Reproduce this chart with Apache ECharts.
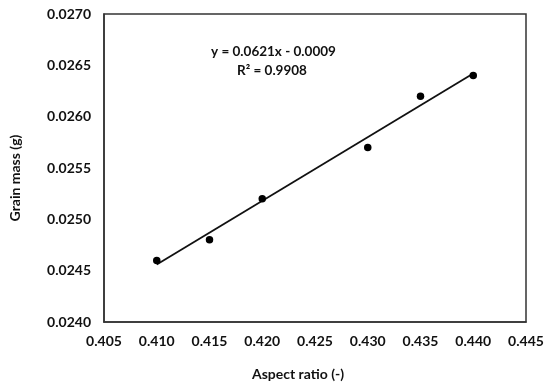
<!DOCTYPE html>
<html><head><meta charset="utf-8">
<script src="https://cdn.jsdelivr.net/npm/echarts@6/dist/echarts.min.js"></script>
<style>html,body{margin:0;padding:0;background:#fff}#c{width:550px;height:387px}</style>
</head><body><div id="c"></div>
<script>
const aspectRatio = [0.410, 0.415, 0.420, 0.430, 0.435, 0.440];
const grainMass = [0.0246, 0.0248, 0.0252, 0.0257, 0.0262, 0.0264];
const trendX = [0.410, 0.440];
const trendY = [0.02456, 0.02642];
const equationText = 'y = 0.0621x - 0.0009';
const r2Text = 'R² = 0.9908';

const font = 'Lato, "Open Sans", sans-serif';
const chart = echarts.init(document.getElementById('c'), null, {renderer: 'canvas'});
chart.setOption({
  backgroundColor: '#fff',
  animation: false,
  grid: {left: 103, top: 14, right: 24, bottom: 65, show: true, borderColor: '#333', borderWidth: 1.5},
  xAxis: {
    type: 'value', min: 0.405, max: 0.445, interval: 0.005,
    name: 'Aspect ratio (-)', nameLocation: 'middle', nameGap: 45,
    nameTextStyle: {fontFamily: font, fontWeight: 'bold', fontSize: 14, color: '#111', padding: [0, 34, 0, 0]},
    axisLine: {show: true, lineStyle: {color: '#333', width: 1.5}},
    axisTick: {show: false},
    splitLine: {show: false},
    axisLabel: {fontFamily: font, fontWeight: 'bold', fontSize: 14, color: '#111', margin: 12,
      formatter: v => v.toFixed(3)}
  },
  yAxis: {
    type: 'value', min: 0.024, max: 0.027, interval: 0.0005,
    name: 'Grain mass (g)', nameLocation: 'middle', nameGap: 82,
    nameTextStyle: {fontFamily: font, fontWeight: 'bold', fontSize: 14, color: '#111', padding: [0, 20, 0, 0]},
    axisLine: {show: true, lineStyle: {color: '#333', width: 1.5}},
    axisTick: {show: false},
    splitLine: {show: false},
    axisLabel: {fontFamily: font, fontWeight: 'bold', fontSize: 14, color: '#111', margin: 13,
      formatter: v => v.toFixed(4)}
  },
  series: [
    {type: 'line', data: trendX.map((x, i) => [x, trendY[i]]), symbol: 'none',
     lineStyle: {color: '#111', width: 1.8}, z: 2},
    {type: 'scatter', data: aspectRatio.map((x, i) => [x, grainMass[i]]), symbolSize: 7.5,
     itemStyle: {color: '#000', opacity: 1}, z: 3}
  ],
  graphic: [
    {type: 'text', left: 211, top: 45, style: {text: equationText, fontFamily: font, fontWeight: 'bold', fontSize: 13.5, fill: '#111'}},
    {type: 'text', left: 237, top: 64, style: {text: r2Text, fontFamily: font, fontWeight: 'bold', fontSize: 13.5, fill: '#111'}}
  ]
});
</script></body></html>
